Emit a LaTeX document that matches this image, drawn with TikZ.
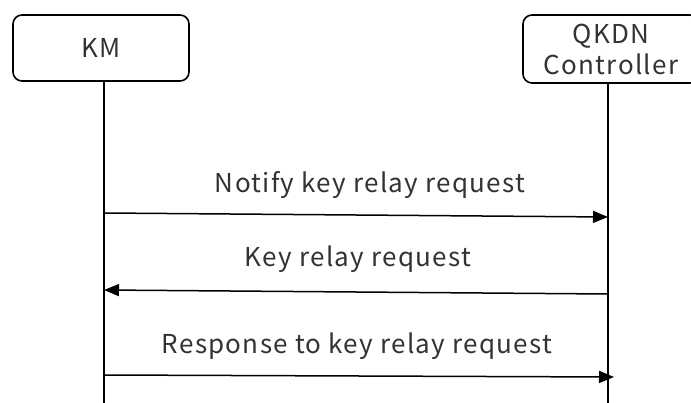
\documentclass[tikz,border=0pt]{standalone}
\usepackage{fontspec}
\setmainfont[LetterSpace=5]{Noto Sans CJK JP}
\usetikzlibrary{arrows.meta,positioning,calc}

\begin{document}
\begin{tikzpicture}[
  x=1pt, y=-1pt,
  font=\fontsize{26}{31}\selectfont,
  actor/.style={draw, line width=1.6pt, rounded corners=9pt, align=center, minimum width=176pt, minimum height=66pt, text=black!80},
  msg/.style={-{Triangle[length=15pt,width=12pt]}, line width=1.5pt},
  lbl/.style={text=black!80, anchor=base}
]
\useasboundingbox (0,0) rectangle (691,403);
% participants
\node[actor] (km) at (101,48) {KM};
\node[actor, minimum height=68pt] (qkdn) at (611,49) {QKDN\\Controller};
% lifelines
\coordinate (kmEnd) at (104,403);
\coordinate (qkdnEnd) at (608,403);
\draw[line width=1.5pt] (km.south -| kmEnd) -- (kmEnd);
\draw[line width=1.5pt] (qkdn.south -| qkdnEnd) -- (qkdnEnd);
% messages
\coordinate (m1s) at (104,213);
\coordinate (m1e) at (608,217);
\coordinate (m2s) at (608,294);
\coordinate (m2e) at (104,290);
\coordinate (m3s) at (104,375);
\coordinate (m3e) at (614,377);
\draw[msg] (m1s) -- (m1e);
\draw[msg] (m2s) -- (m2e);
\draw[msg] (m3s) -- (m3e);
\node[lbl] (t1) at (370,193) {Notify key relay request};
\node[lbl] (t2) at (358,267) {Key relay request};
\node[lbl] (t3) at (357,353) {Response to key relay request};
\end{tikzpicture}
\end{document}
